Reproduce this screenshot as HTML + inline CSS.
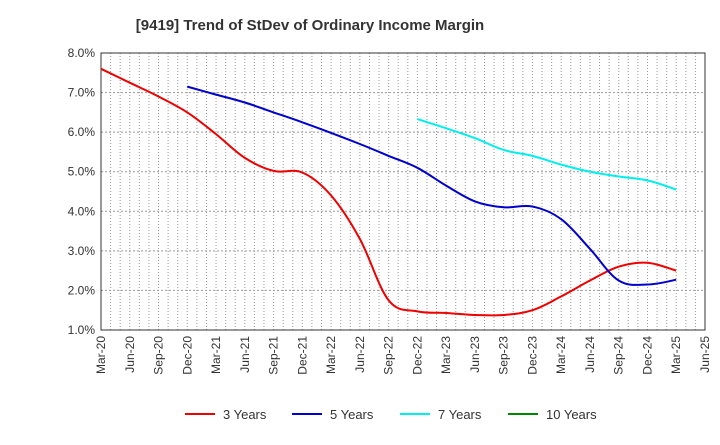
<!DOCTYPE html>
<html><head><meta charset="utf-8"><style>
body{margin:0;background:#fff;font-family:"Liberation Sans",Arial,sans-serif}
</style></head><body>
<svg id="c" width="720" height="440" xmlns="http://www.w3.org/2000/svg">
<text x="310" y="30" text-anchor="middle" font-size="15" font-weight="bold" fill="#333">[9419]  Trend of StDev of Ordinary Income Margin</text>
<g id="grid"></g><g id="axes"></g><g id="series"></g><g id="legend"></g>
</svg>
<script>
const xLabels=["Mar-20","Jun-20","Sep-20","Dec-20","Mar-21","Jun-21","Sep-21","Dec-21","Mar-22","Jun-22","Sep-22","Dec-22","Mar-23","Jun-23","Sep-23","Dec-23","Mar-24","Jun-24","Sep-24","Dec-24","Mar-25","Jun-25"];
const yTicks=[1,2,3,4,5,6,7,8];
const y3=[7.6,7.25,6.9,6.5,5.95,5.35,5.02,4.98,4.4,3.3,1.75,1.47,1.43,1.38,1.38,1.5,1.85,2.25,2.6,2.7,2.5];
const y5=[null,null,null,7.15,6.95,6.75,6.5,6.25,5.98,5.7,5.4,5.1,4.65,4.25,4.1,4.12,3.8,3.05,2.25,2.15,2.27];
const y7=[null,null,null,null,null,null,null,null,null,null,null,6.33,6.1,5.85,5.55,5.4,5.18,5.0,4.88,4.78,4.55];
const y10=[];
const L=101,R=705,T=53,B=330;
const NS="http://www.w3.org/2000/svg";
const xs=i=>L+(R-L)*i/63*3;
const xm=m=>L+(R-L)*m/63;
const ys=v=>B-(v-1)/7*(B-T);
function mk(t,a,p){const e=document.createElementNS(NS,t);for(const k in a)e.setAttribute(k,a[k]);p.appendChild(e);return e;}
const g=document.getElementById('grid'),ax=document.getElementById('axes'),se=document.getElementById('series'),lg=document.getElementById('legend');
for(let m=1;m<63;m++){const l=mk('line',{x1:xm(m),x2:xm(m),y1:T,y2:B,stroke:'#999','stroke-width':1,'stroke-dasharray':'1,2'},g);

}
yTicks.forEach(v=>{const l=mk('line',{x1:L,x2:R,y1:ys(v),y2:ys(v),stroke:'#999','stroke-width':1,'stroke-dasharray':'2,2'},g);


const t=mk('text',{x:L-6,y:ys(v)+4,'text-anchor':'end','font-size':12,fill:'#333'},ax);t.textContent=v.toFixed(1)+'%';

});
const fr=mk('rect',{x:L,y:T,width:R-L,height:B-T,fill:'none',stroke:'#333','stroke-width':1},ax);


xLabels.forEach((s,i)=>{const x=xs(i);const t=mk('text',{x:x+4,y:B+6,'text-anchor':'end','font-size':12,fill:'#333',transform:`rotate(-90 ${x+4} ${B+6})`},ax);t.textContent=s;

});
function line(arr,col,name){const pts=[];arr.forEach((v,i)=>{if(v!=null)pts.push([xs(i),ys(v)]);});
if(pts.length<2)return;let d='M'+pts[0][0].toFixed(1)+','+pts[0][1].toFixed(1);const k=0.35;
for(let i=0;i<pts.length-1;i++){const p0=pts[Math.max(0,i-1)],p1=pts[i],p2=pts[i+1],p3=pts[Math.min(pts.length-1,i+2)];
const c1=[p1[0]+(p2[0]-p0[0])*k/2,p1[1]+(p2[1]-p0[1])*k/2],c2=[p2[0]-(p3[0]-p1[0])*k/2,p2[1]-(p3[1]-p1[1])*k/2];
d+='C'+c1.map(n=>n.toFixed(1)).join(',')+' '+c2.map(n=>n.toFixed(1)).join(',')+' '+p2[0].toFixed(1)+','+p2[1].toFixed(1);}
const p=mk('path',{d:d,fill:'none',stroke:col,'stroke-width':2,'stroke-linejoin':'round'},se);

}
line(y3,'#ee0000','series-3-years');line(y5,'#0000cc','series-5-years');line(y7,'#00eeee','series-7-years');line(y10,'#008800','series-10-years');
[['3 Years','#ee0000',185],['5 Years','#0000cc',292],['7 Years','#00eeee',400],['10 Years','#008800',508]].forEach(([n,c,x])=>{
const gg=mk('g',{},lg);


mk('line',{x1:x,x2:x+30,y1:414,y2:414,stroke:c,'stroke-width':2},gg);
const t=mk('text',{x:x+38,y:419,'font-size':13,fill:'#333'},gg);t.textContent=n;});
</script>
</body></html>
